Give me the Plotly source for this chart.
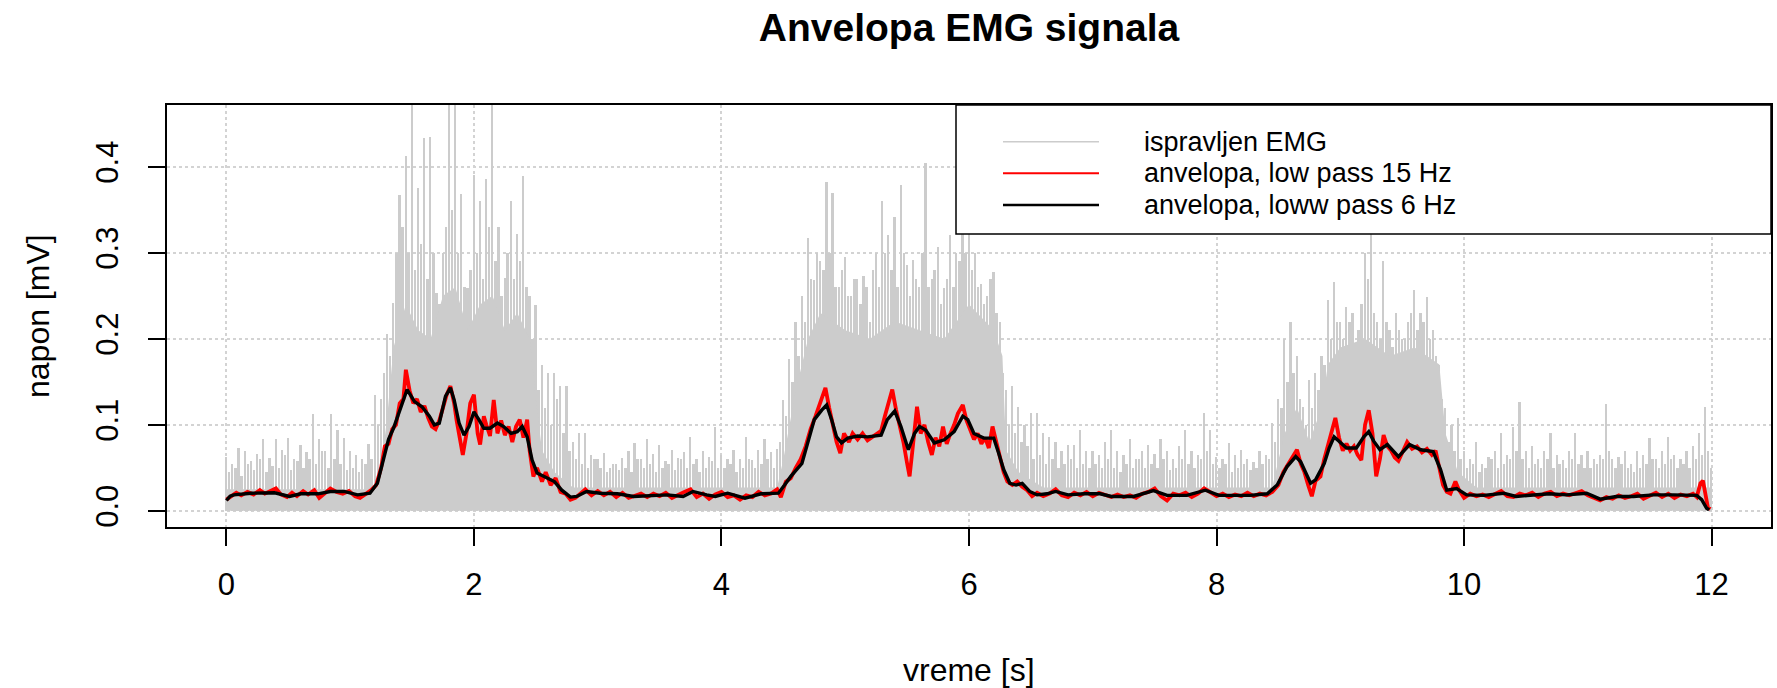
import plotly.graph_objects as go

# ---------------- data ----------------
emg_step = 0.05  # s, sampling grid of the listed peak values
# tallest spike in each 50 ms bin (starting at 0.000 s); 0.48 = runs off the top of the panel
emg_peak = [
    0.063, 0.055, 0.073, 0.070, 0.058, 0.066, 0.083, 0.062, 0.083, 0.071, 0.085, 0.060, 0.077, 0.068, 0.112, 0.083, 0.070, 0.112, 0.094, 0.085,
    0.070, 0.065, 0.060, 0.078, 0.135, 0.130, 0.206, 0.242, 0.367, 0.413, 0.480, 0.375, 0.433, 0.435, 0.253, 0.300, 0.480, 0.480, 0.368, 0.259,
    0.391, 0.360, 0.386, 0.480, 0.330, 0.271, 0.360, 0.322, 0.389, 0.250, 0.239, 0.170, 0.160, 0.160, 0.145, 0.145, 0.080, 0.090, 0.090, 0.065,
    0.060, 0.067, 0.050, 0.055, 0.062, 0.070, 0.079, 0.060, 0.083, 0.066, 0.077, 0.058, 0.071, 0.062, 0.068, 0.086, 0.060, 0.069, 0.063, 0.098,
    0.065, 0.060, 0.071, 0.060, 0.086, 0.059, 0.071, 0.083, 0.068, 0.072, 0.129, 0.176, 0.220, 0.250, 0.317, 0.268, 0.290, 0.382, 0.370, 0.260,
    0.295, 0.250, 0.270, 0.273, 0.220, 0.300, 0.360, 0.321, 0.342, 0.379, 0.286, 0.292, 0.260, 0.404, 0.270, 0.307, 0.259, 0.321, 0.300, 0.326,
    0.330, 0.300, 0.264, 0.250, 0.278, 0.220, 0.140, 0.145, 0.121, 0.100, 0.114, 0.114, 0.090, 0.086, 0.080, 0.070, 0.077, 0.077, 0.094, 0.070,
    0.070, 0.065, 0.080, 0.094, 0.070, 0.065, 0.083, 0.060, 0.070, 0.077, 0.066, 0.083, 0.070, 0.060, 0.075, 0.094, 0.070, 0.065, 0.114, 0.094,
    0.063, 0.060, 0.079, 0.065, 0.071, 0.060, 0.057, 0.070, 0.065, 0.102, 0.130, 0.200, 0.220, 0.180, 0.121, 0.152, 0.160, 0.180, 0.245, 0.266,
    0.220, 0.237, 0.230, 0.210, 0.300, 0.330, 0.220, 0.290, 0.210, 0.230, 0.200, 0.220, 0.257, 0.230, 0.249, 0.210, 0.170, 0.120, 0.100, 0.108,
    0.070, 0.060, 0.080, 0.055, 0.063, 0.070, 0.090, 0.065, 0.098, 0.127, 0.070, 0.075, 0.060, 0.070, 0.090, 0.065, 0.059, 0.070, 0.090, 0.065,
    0.070, 0.060, 0.065, 0.124, 0.060, 0.063, 0.070, 0.055, 0.070, 0.065, 0.085, 0.060, 0.070, 0.086, 0.065, 0.060, 0.070, 0.075, 0.090, 0.121, 0.050,
]
# secondary spikes, half-way between the bins above (starting at 0.025 s)
emg_mid = [
    0.045, 0.050, 0.040, 0.055, 0.048, 0.060, 0.045, 0.052, 0.050, 0.065, 0.047, 0.058, 0.050, 0.060, 0.055, 0.070, 0.050, 0.060, 0.055, 0.048,
    0.050, 0.045, 0.055, 0.060, 0.100, 0.160, 0.180, 0.300, 0.330, 0.300, 0.280, 0.310, 0.270, 0.300, 0.240, 0.330, 0.350, 0.300, 0.260, 0.280,
    0.300, 0.270, 0.330, 0.290, 0.250, 0.300, 0.270, 0.290, 0.260, 0.200, 0.140, 0.120, 0.100, 0.130, 0.090, 0.070, 0.060, 0.055, 0.050, 0.060,
    0.050, 0.045, 0.055, 0.048, 0.050, 0.045, 0.060, 0.050, 0.055, 0.045, 0.050, 0.055, 0.048, 0.060, 0.050, 0.055, 0.045, 0.050, 0.058, 0.050,
    0.050, 0.055, 0.045, 0.050, 0.060, 0.050, 0.055, 0.060, 0.050, 0.080, 0.110, 0.150, 0.180, 0.220, 0.270, 0.300, 0.280, 0.300, 0.260, 0.280,
    0.250, 0.270, 0.240, 0.260, 0.280, 0.260, 0.300, 0.280, 0.260, 0.300, 0.250, 0.270, 0.300, 0.260, 0.280, 0.240, 0.270, 0.260, 0.290, 0.300,
    0.280, 0.260, 0.240, 0.270, 0.230, 0.160, 0.100, 0.090, 0.080, 0.075, 0.060, 0.065, 0.055, 0.060, 0.050, 0.055, 0.060, 0.050, 0.055, 0.050,
    0.055, 0.050, 0.060, 0.050, 0.045, 0.055, 0.050, 0.060, 0.050, 0.055, 0.050, 0.060, 0.048, 0.050, 0.060, 0.055, 0.050, 0.060, 0.070, 0.055,
    0.050, 0.055, 0.045, 0.050, 0.055, 0.048, 0.050, 0.055, 0.060, 0.080, 0.120, 0.150, 0.160, 0.130, 0.100, 0.120, 0.140, 0.170, 0.200, 0.220,
    0.200, 0.220, 0.190, 0.240, 0.270, 0.230, 0.200, 0.220, 0.190, 0.210, 0.200, 0.230, 0.210, 0.220, 0.200, 0.180, 0.130, 0.080, 0.070, 0.060,
    0.050, 0.055, 0.045, 0.050, 0.060, 0.050, 0.055, 0.060, 0.070, 0.060, 0.050, 0.055, 0.050, 0.060, 0.050, 0.055, 0.050, 0.060, 0.055, 0.050,
    0.050, 0.055, 0.060, 0.070, 0.050, 0.055, 0.050, 0.045, 0.050, 0.055, 0.060, 0.050, 0.055, 0.060, 0.050, 0.055, 0.050, 0.060, 0.065, 0.070,
]
emg_time = [round(i * emg_step, 3) for i in range(len(emg_peak))]
emg_mid_time = [round(i * emg_step + emg_step / 2, 3) for i in range(len(emg_mid))]

# dense (solid) part of the rectified EMG
core_t = [0, 1.2, 1.25, 1.3, 1.35, 1.45, 1.55, 1.65, 1.75, 1.85, 1.95, 2.05, 2.15, 2.25, 2.35, 2.45, 2.5, 2.55, 2.65, 2.8,
          4.45, 4.5, 4.6, 4.7, 4.8, 5.0, 5.2, 5.4, 5.6, 5.8, 6.0, 6.2, 6.27, 6.3, 6.4, 6.6,
          8.45, 8.55, 8.65, 8.75, 8.85, 8.9, 9.0, 9.2, 9.4, 9.6, 9.8, 9.85, 9.95, 10.1, 12.0]
core_v = [0.025, 0.025, 0.05, 0.11, 0.19, 0.24, 0.21, 0.2, 0.25, 0.26, 0.21, 0.24, 0.25, 0.21, 0.23, 0.2, 0.13, 0.07, 0.045, 0.027,
          0.027, 0.06, 0.14, 0.2, 0.23, 0.21, 0.2, 0.22, 0.21, 0.2, 0.24, 0.21, 0.18, 0.07, 0.045, 0.027,
          0.027, 0.09, 0.12, 0.08, 0.12, 0.17, 0.19, 0.2, 0.18, 0.19, 0.17, 0.09, 0.045, 0.027, 0.027]

# envelope, low pass 15 Hz (red)
red_t = [0.00, 0.03, 0.08, 0.12, 0.17, 0.22, 0.27, 0.31, 0.36, 0.40, 0.44, 0.49, 0.53, 0.57, 0.62, 0.66, 0.71, 0.75, 0.80, 0.84,
         0.89, 0.94, 0.99, 1.04, 1.08, 1.13, 1.17, 1.21, 1.25, 1.28, 1.31, 1.34, 1.37, 1.40, 1.43, 1.45, 1.48, 1.51, 1.54, 1.57,
         1.60, 1.63, 1.66, 1.69, 1.72, 1.75, 1.78, 1.81, 1.84, 1.86, 1.89, 1.91, 1.94, 1.97, 2.00, 2.03, 2.05, 2.08, 2.10, 2.13,
         2.16, 2.19, 2.22, 2.25, 2.28, 2.31, 2.34, 2.37, 2.40, 2.43, 2.45, 2.48, 2.51, 2.55, 2.58, 2.62, 2.66, 2.70, 2.74, 2.78,
         2.82, 2.86, 2.90, 2.95, 3.00, 3.05, 3.10, 3.15, 3.20, 3.25, 3.30, 3.35, 3.40, 3.45, 3.50, 3.55, 3.60, 3.65, 3.70, 3.75,
         3.80, 3.85, 3.90, 3.95, 4.00, 4.05, 4.10, 4.15, 4.20, 4.25, 4.30, 4.35, 4.40, 4.45, 4.48, 4.52, 4.56, 4.60, 4.64, 4.68,
         4.72, 4.76, 4.80, 4.84, 4.87, 4.90, 4.93, 4.96, 4.99, 5.03, 5.06, 5.10, 5.14, 5.18, 5.22, 5.26, 5.29, 5.32, 5.35, 5.38,
         5.41, 5.44, 5.47, 5.50, 5.52, 5.55, 5.58, 5.61, 5.64, 5.67, 5.70, 5.73, 5.76, 5.79, 5.82, 5.85, 5.88, 5.91, 5.95, 5.98,
         6.01, 6.04, 6.07, 6.10, 6.13, 6.16, 6.19, 6.22, 6.25, 6.28, 6.31, 6.35, 6.39, 6.43, 6.47, 6.51, 6.55, 6.60, 6.65, 6.70,
         6.75, 6.80, 6.85, 6.90, 6.95, 7.00, 7.05, 7.10, 7.15, 7.20, 7.25, 7.30, 7.35, 7.40, 7.45, 7.50, 7.55, 7.60, 7.65, 7.70,
         7.75, 7.80, 7.85, 7.90, 7.95, 8.00, 8.05, 8.10, 8.15, 8.20, 8.25, 8.30, 8.35, 8.40, 8.45, 8.50, 8.54, 8.58, 8.62, 8.65,
         8.68, 8.71, 8.74, 8.77, 8.80, 8.84, 8.87, 8.90, 8.93, 8.96, 8.99, 9.02, 9.05, 9.08, 9.11, 9.14, 9.17, 9.20, 9.23, 9.26,
         9.29, 9.32, 9.35, 9.38, 9.41, 9.44, 9.47, 9.50, 9.54, 9.58, 9.62, 9.66, 9.70, 9.74, 9.77, 9.80, 9.83, 9.86, 9.89, 9.93,
         9.96, 10.00, 10.05, 10.10, 10.15, 10.20, 10.25, 10.30, 10.35, 10.40, 10.45, 10.50, 10.55, 10.60, 10.65, 10.70, 10.75, 10.80, 10.85, 10.90,
         10.95, 11.00, 11.05, 11.10, 11.15, 11.20, 11.25, 11.30, 11.35, 11.40, 11.45, 11.50, 11.55, 11.60, 11.65, 11.70, 11.75, 11.80, 11.85, 11.88,
         11.91, 11.93, 11.95, 11.97, 11.99]
red_v = [0.013, 0.016, 0.021, 0.018, 0.022, 0.019, 0.024, 0.020, 0.023, 0.026, 0.019, 0.016, 0.021, 0.017, 0.023, 0.019, 0.024, 0.015, 0.021, 0.026,
         0.022, 0.020, 0.023, 0.017, 0.015, 0.020, 0.024, 0.030, 0.050, 0.075, 0.078, 0.095, 0.100, 0.125, 0.130, 0.164, 0.140, 0.125, 0.130, 0.115,
         0.122, 0.108, 0.098, 0.095, 0.105, 0.120, 0.135, 0.145, 0.125, 0.105, 0.080, 0.065, 0.090, 0.125, 0.135, 0.090, 0.077, 0.110, 0.100, 0.087,
         0.129, 0.090, 0.105, 0.088, 0.098, 0.080, 0.098, 0.106, 0.085, 0.106, 0.070, 0.040, 0.050, 0.034, 0.045, 0.030, 0.038, 0.022, 0.020, 0.013,
         0.015, 0.020, 0.025, 0.018, 0.023, 0.018, 0.022, 0.016, 0.021, 0.015, 0.018, 0.020, 0.016, 0.020, 0.017, 0.021, 0.015, 0.019, 0.022, 0.025,
         0.016, 0.020, 0.014, 0.019, 0.022, 0.016, 0.018, 0.013, 0.018, 0.016, 0.022, 0.018, 0.020, 0.025, 0.016, 0.034, 0.038, 0.050, 0.060, 0.075,
         0.095, 0.110, 0.125, 0.143, 0.120, 0.100, 0.080, 0.067, 0.090, 0.080, 0.090, 0.083, 0.090, 0.082, 0.086, 0.090, 0.093, 0.110, 0.127, 0.141,
         0.118, 0.100, 0.080, 0.055, 0.040, 0.080, 0.121, 0.090, 0.100, 0.080, 0.065, 0.085, 0.075, 0.098, 0.078, 0.090, 0.100, 0.113, 0.123, 0.105,
         0.095, 0.083, 0.090, 0.078, 0.085, 0.073, 0.098, 0.080, 0.060, 0.045, 0.034, 0.030, 0.034, 0.028, 0.024, 0.017, 0.021, 0.017, 0.020, 0.025,
         0.018, 0.016, 0.021, 0.018, 0.022, 0.017, 0.021, 0.018, 0.016, 0.019, 0.016, 0.018, 0.015, 0.020, 0.022, 0.026, 0.017, 0.012, 0.020, 0.018,
         0.021, 0.016, 0.020, 0.026, 0.022, 0.017, 0.020, 0.016, 0.019, 0.017, 0.021, 0.017, 0.020, 0.018, 0.022, 0.030, 0.045, 0.055, 0.065, 0.071,
         0.055, 0.045, 0.030, 0.017, 0.035, 0.040, 0.060, 0.075, 0.090, 0.108, 0.085, 0.070, 0.078, 0.070, 0.075, 0.065, 0.059, 0.100, 0.117, 0.090,
         0.040, 0.060, 0.088, 0.075, 0.070, 0.062, 0.058, 0.068, 0.080, 0.072, 0.075, 0.068, 0.072, 0.065, 0.070, 0.050, 0.030, 0.022, 0.020, 0.034,
         0.024, 0.015, 0.020, 0.017, 0.019, 0.016, 0.020, 0.023, 0.017, 0.016, 0.020, 0.018, 0.021, 0.016, 0.020, 0.022, 0.017, 0.020, 0.018, 0.021,
         0.023, 0.018, 0.015, 0.012, 0.016, 0.014, 0.018, 0.015, 0.017, 0.020, 0.014, 0.018, 0.021, 0.016, 0.020, 0.015, 0.019, 0.017, 0.020, 0.016,
         0.032, 0.035, 0.020, 0.004, 0.002]

# envelope, low pass 6 Hz (black)
blk_t = [0.00, 0.03, 0.06, 0.20, 0.39, 0.45, 0.51, 0.60, 0.74, 0.84, 0.95, 1.06, 1.16, 1.22, 1.26, 1.31, 1.35, 1.41, 1.46, 1.52,
         1.58, 1.64, 1.68, 1.72, 1.77, 1.81, 1.84, 1.88, 1.92, 1.96, 2.00, 2.04, 2.08, 2.13, 2.19, 2.24, 2.30, 2.35, 2.39, 2.43,
         2.47, 2.51, 2.59, 2.65, 2.71, 2.78, 2.83, 2.91, 3.02, 3.16, 3.29, 3.43, 3.56, 3.69, 3.77, 3.88, 3.95, 4.05, 4.19, 4.32,
         4.46, 4.51, 4.56, 4.65, 4.70, 4.75, 4.81, 4.85, 4.89, 4.93, 4.97, 5.02, 5.10, 5.18, 5.29, 5.34, 5.40, 5.45, 5.51, 5.56,
         5.60, 5.65, 5.72, 5.80, 5.88, 5.95, 5.99, 6.04, 6.12, 6.20, 6.24, 6.28, 6.33, 6.38, 6.43, 6.49, 6.55, 6.63, 6.70, 6.80,
         6.93, 7.06, 7.15, 7.33, 7.49, 7.60, 7.76, 7.91, 8.02, 8.14, 8.27, 8.41, 8.49, 8.57, 8.64, 8.68, 8.76, 8.80, 8.87, 8.91,
         8.95, 8.99, 9.05, 9.13, 9.19, 9.23, 9.27, 9.32, 9.38, 9.47, 9.56, 9.65, 9.75, 9.81, 9.86, 9.94, 10.02, 10.16, 10.32, 10.42,
         10.56, 10.69, 10.83, 10.99, 11.10, 11.23, 11.37, 11.53, 11.69, 11.88, 11.92, 11.96, 11.98]
blk_v = [0.012, 0.017, 0.0186, 0.0205, 0.021, 0.019, 0.0167, 0.0198, 0.0198, 0.0225, 0.0225, 0.0186, 0.0205, 0.032, 0.055, 0.083, 0.096, 0.121, 0.141, 0.127,
         0.121, 0.110, 0.100, 0.102, 0.133, 0.143, 0.129, 0.102, 0.088, 0.098, 0.115, 0.106, 0.096, 0.096, 0.102, 0.098, 0.090, 0.092, 0.098, 0.086,
         0.059, 0.044, 0.038, 0.034, 0.024, 0.016, 0.0167, 0.0225, 0.0205, 0.0198, 0.0167, 0.0174, 0.0186, 0.0167, 0.0225, 0.0186, 0.0167, 0.0205, 0.0147, 0.0198,
         0.0205, 0.030, 0.040, 0.055, 0.079, 0.106, 0.117, 0.123, 0.106, 0.086, 0.079, 0.0845, 0.087, 0.086, 0.088, 0.106, 0.116, 0.098, 0.071, 0.090,
         0.098, 0.094, 0.079, 0.0826, 0.092, 0.110, 0.106, 0.090, 0.0845, 0.0845, 0.067, 0.048, 0.032, 0.030, 0.032, 0.0225, 0.0186, 0.0198, 0.0225, 0.0186,
         0.0198, 0.0198, 0.0167, 0.0167, 0.0236, 0.018, 0.018, 0.024, 0.018, 0.018, 0.018, 0.0198, 0.030, 0.0515, 0.063, 0.057, 0.032, 0.036, 0.055, 0.073,
         0.086, 0.081, 0.073, 0.073, 0.086, 0.092, 0.081, 0.071, 0.077, 0.063, 0.077, 0.071, 0.069, 0.048, 0.024, 0.026, 0.0186, 0.018, 0.0205, 0.0167,
         0.0186, 0.0198, 0.0186, 0.0205, 0.0136, 0.0167, 0.0167, 0.0186, 0.0186, 0.018, 0.013, 0.003, 0.001]

x_ticks = [0, 2, 4, 6, 8, 10, 12]
y_ticks = [0.0, 0.1, 0.2, 0.3, 0.4]
y_tick_text = ["0.0", "0.1", "0.2", "0.3", "0.4"]
legend_labels = ["ispravljen EMG", "anvelopa, low pass 15 Hz", "anvelopa, loww pass 6 Hz"]
legend_colors = ["#cccccc", "#ff0000", "#000000"]
title_text = "Anvelopa EMG signala"
x_title = "vreme [s]"
y_title = "napon [mV]"

# ---------------- figure ----------------
W, H = 1777, 688
L, R, T, B = 167, 6, 105, 161
FONT = "Arial, Liberation Sans, sans-serif"
GRAY = "#cccccc"

fig = go.Figure()
fig.add_trace(go.Scatter(x=core_t, y=core_v, mode="lines", fill="tozeroy",
                         fillcolor=GRAY, line=dict(width=0, color=GRAY),
                         hoverinfo="skip", showlegend=False))
fig.add_trace(go.Bar(x=emg_mid_time, y=emg_mid, width=0.016, marker=dict(color=GRAY, line=dict(width=0)),
                     showlegend=False, hoverinfo="skip"))
fig.add_trace(go.Bar(x=emg_time, y=emg_peak, width=0.014, marker=dict(color=GRAY, line=dict(width=0)),
                     showlegend=False, name=legend_labels[0]))
fig.add_trace(go.Scatter(x=red_t, y=red_v, mode="lines", line=dict(color="#ff0000", width=3.8),
                         showlegend=False, name=legend_labels[1]))
fig.add_trace(go.Scatter(x=blk_t, y=blk_v, mode="lines", line=dict(color="#000000", width=3.4),
                         showlegend=False, name=legend_labels[2]))

pw = W - L - R
ph = H - T - B
def px_x(X):
    return (X - L) / pw
def px_y(Y):
    return (H - B - Y) / ph

# legend box
shapes = [dict(type="rect", xref="paper", yref="paper", x0=px_x(956), x1=1.0, y0=px_y(234), y1=1.0,
               fillcolor="white", line=dict(color="black", width=1.5), layer="above")]
annotations = []
rows_y = [141.7, 173.3, 205.0]
line_w = [1.5, 2, 2.5]
for lab, col, ry, lw in zip(legend_labels, legend_colors, rows_y, line_w):
    shapes.append(dict(type="line", xref="paper", yref="paper", x0=px_x(1003), x1=px_x(1099),
                       y0=px_y(ry), y1=px_y(ry), line=dict(color=col, width=lw), layer="above"))
    annotations.append(dict(text=lab, xref="paper", yref="paper", x=px_x(1142), y=px_y(ry),
                            xanchor="left", yanchor="middle", showarrow=False,
                            font=dict(family=FONT, size=27, color="black")))

annotations.append(dict(text=x_title, xref="paper", yref="paper", x=0.5, y=px_y(670),
                        xanchor="center", yanchor="middle", showarrow=False,
                        font=dict(family=FONT, size=32, color="black")))
annotations.append(dict(text=y_title, xref="paper", yref="paper", x=px_x(38), y=0.5,
                        xanchor="center", yanchor="middle", showarrow=False, textangle=-90,
                        font=dict(family=FONT, size=32, color="black")))

fig.update_layout(
    width=W, height=H,
    margin=dict(l=L, r=R, t=T, b=B),
    paper_bgcolor="white", plot_bgcolor="white",
    title=dict(text="<b>" + title_text + "</b>", x=0.5, xref="paper", xanchor="center",
               y=1 - 27 / H, yref="container", yanchor="middle",
               font=dict(family=FONT, size=39, color="black")),
    showlegend=False,
    bargap=0,
    barmode="overlay",
    shapes=shapes,
    annotations=annotations,
    font=dict(family=FONT, color="black"),
)
fig.update_xaxes(range=[-0.48, 12.48], tickvals=x_ticks, ticktext=[str(v) for v in x_ticks],
                 ticks="outside", ticklen=17, tickwidth=1.5, tickcolor="black",
                 tickfont=dict(family=FONT, size=31, color="black"), ticklabelstandoff=12,
                 showline=True, mirror=True, linecolor="black", linewidth=1.5,
                 showgrid=True, gridcolor="#d3d3d3", griddash="dot", gridwidth=1.5,
                 zeroline=False, automargin=False)
fig.update_yaxes(range=[-0.0188, 0.4718], tickvals=y_ticks, ticktext=y_tick_text, tickangle=-90,
                 ticks="outside", ticklen=17, tickwidth=1.5, tickcolor="black",
                 tickfont=dict(family=FONT, size=31, color="black"), ticklabelstandoff=18,
                 showline=True, mirror=True, linecolor="black", linewidth=1.5,
                 showgrid=True, gridcolor="#d3d3d3", griddash="dot", gridwidth=1.5,
                 zeroline=False, automargin=False)

fig.write_html("out.html", config={"displayModeBar": False},
               post_script="document.body.style.margin='0px';")
